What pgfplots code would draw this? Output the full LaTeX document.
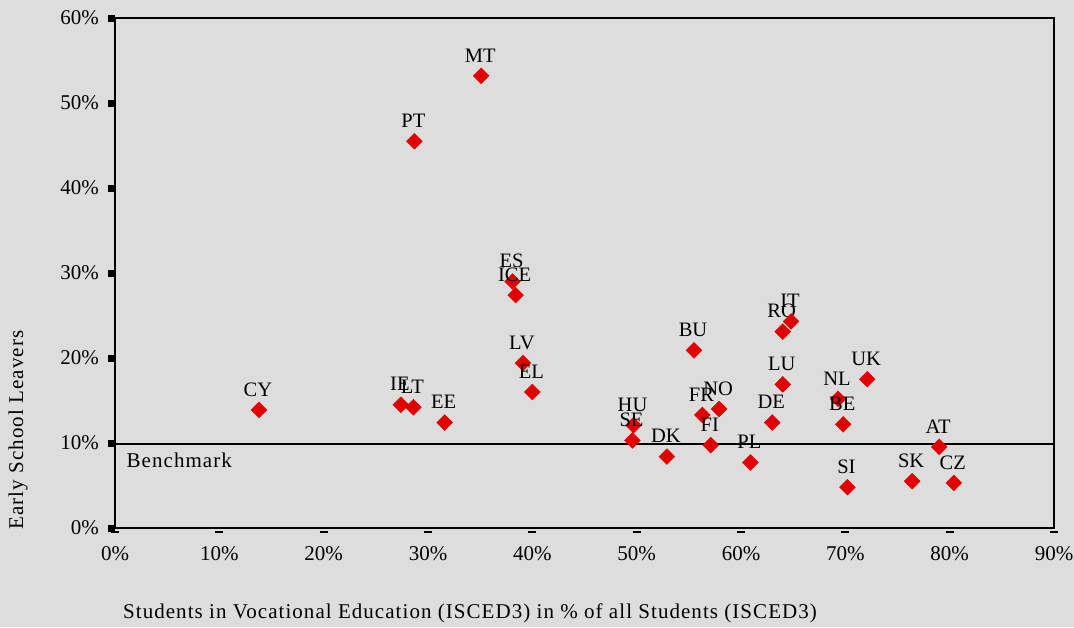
\documentclass[border=0pt]{standalone}
\usepackage{pgfplots}
\pgfplotsset{compat=1.18}
\usepackage{fontspec}
\setmainfont{Liberation Serif}
\newfontfamily\spaced[LetterSpace=5]{Liberation Serif}
\definecolor{bg}{RGB}{221,221,221}
\definecolor{pt}{RGB}{224,0,0}
\pgfplotstableread{
x y lab
35.1 53.2 MT
28.7 45.5 PT
38.1 29.0 ES
38.4 27.4 ICE
39.1 19.4 LV
40.0 16.0 EL
27.4 14.5 IE
28.6 14.2 LT
31.6 12.4 EE
13.8 13.9 CY
49.7 12.1 HU
49.6 10.3 SE
52.9 8.4 DK
56.3 13.3 FR
57.9 14.0 NO
57.1 9.75 FI
60.9 7.7 PL
63.0 12.4 DE
64.0 16.9 LU
64.0 23.1 RO
64.8 24.3 IT
55.5 20.9 BU
69.3 15.2 NL
69.8 12.2 BE
72.1 17.5 UK
70.2 4.8 SI
79.0 9.55 AT
76.4 5.5 SK
80.4 5.3 CZ
}\datatable
\begin{document}
\fontsize{21}{25}\selectfont
\begin{tikzpicture}
\path[fill=bg, use as bounding box] (-115pt,-99pt) rectangle (959pt,528pt);
\begin{axis}[
  scale only axis, width=939pt, height=510pt,
  at={(0,0)}, anchor=south west,
  xmin=0, xmax=90, ymin=0, ymax=60,
  axis line style={line width=1.6pt, black},
  xtick={0,10,...,90}, ytick={0,10,...,60},
  xtick pos=left, ytick pos=left,
  tick align=outside,
  major tick length=7pt,
  y tick style={line width=7pt, black},
  x tick style={line width=0pt, draw=none},
  /pgf/number format/assume math mode=true,
  xticklabel={\pgfmathprintnumber{\tick}\%},
  yticklabel={\pgfmathprintnumber{\tick}\%},
  tick label style={font=\fontsize{21}{25}\selectfont},
  xticklabel style={yshift=-4pt},
  yticklabel style={xshift=-2pt},
  clip=false,
]
\addplot[black, line width=1.3pt, forget plot] coordinates {(0,9.9) (90,9.9)};
\addplot[only marks, mark=square*, mark size=5.6pt, mark options={rotate=45, fill=pt, draw=pt},
  nodes near coords, point meta=explicit symbolic,
  every node near coord/.append style={anchor=center, xshift=-1pt, yshift=20.5pt, black, font=\fontsize{20.5}{24}\selectfont}]
  table[x=x, y=y, meta=lab] {\datatable};
\node[anchor=west, inner sep=0pt, font=\spaced] at (axis cs:1.1,8) {Benchmark};
\foreach \t in {0,10,...,90} {
  \edef\temp{\noexpand\draw[black, line width=2pt] ([xshift=-4pt,yshift=-3.5pt]axis cs:\t,0) -- ([xshift=4pt,yshift=-3.5pt]axis cs:\t,0);}
  \temp
}
\end{axis}
\node[rotate=90, font=\spaced] at (-97pt,98pt) {Early School Leavers};
\node[font=\spaced] at (355pt,-85pt) {Students in Vocational Education (ISCED3) in \% of all Students (ISCED3)};
\end{tikzpicture}
\end{document}
